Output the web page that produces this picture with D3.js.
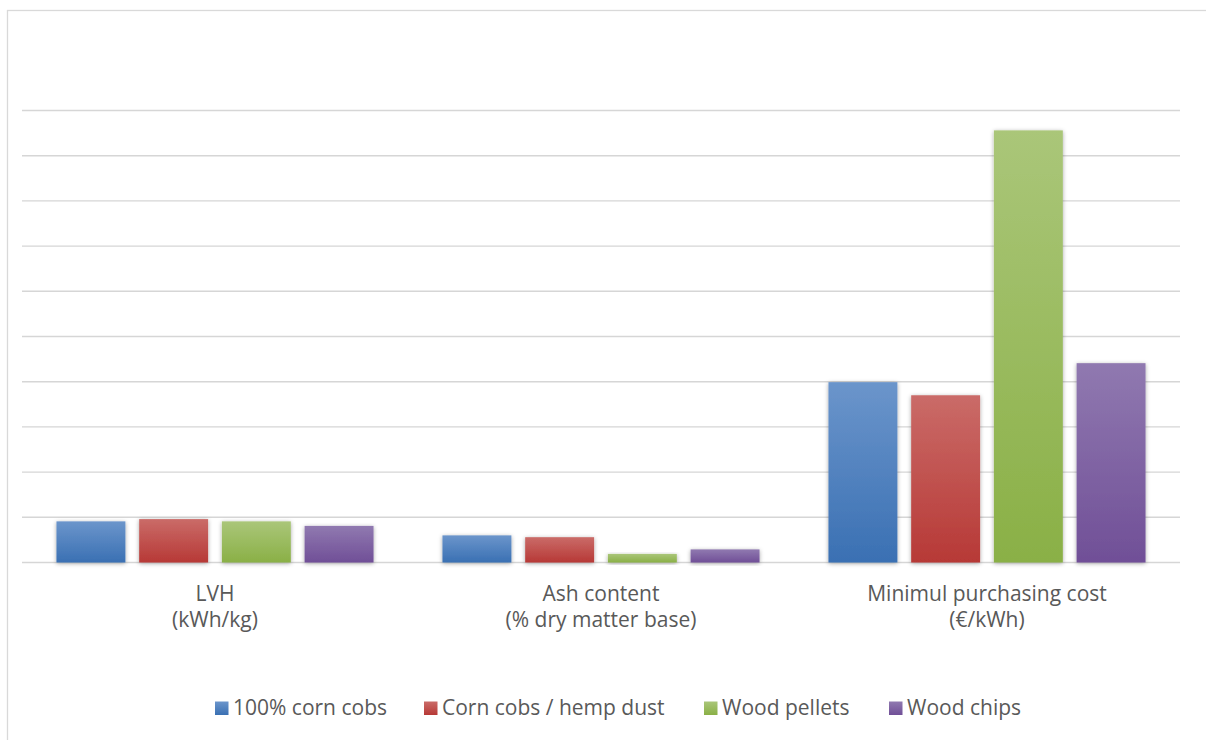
<!DOCTYPE html>
<html>
<head>
<meta charset="utf-8">
<script src="https://cdn.jsdelivr.net/npm/d3@7"></script>
<style>
  html, body { margin: 0; padding: 0; background: #fff; }
  svg { display: block; }
  text { font-family: "Open Sans", Lato, sans-serif; fill: #595959; }
</style>
</head>
<body>
<svg id="chart" width="1206" height="740"></svg>
<script>
// Categories (two-line labels) and series
const categories = [
  ["LVH", "(kWh/kg)"],
  ["Ash content", "(% dry matter base)"],
  ["Minimul purchasing cost", "(€/kWh)"]
];
const seriesNames = ["100% corn cobs", "Corn cobs / hemp dust", "Wood pellets", "Wood chips"];
const cornCobs   = [0.91, 0.60, 3.99];
const hempDust   = [0.96, 0.56, 3.70];
const woodPellet = [0.91, 0.19, 9.56];
const woodChips  = [0.81, 0.29, 4.41];
const seriesValues = [cornCobs, hempDust, woodPellet, woodChips];
const gridTicks = [0, 1, 2, 3, 4, 5, 6, 7, 8, 9, 10];
const colorsTop    = ["#6b95cb", "#ca6b68", "#aac679", "#9079b0"];
const colorsBottom = ["#3a70b3", "#b73936", "#8ab046", "#704f97"];

const svg = d3.select("#chart");
const defs = svg.append("defs");

// vertical gradients per series
seriesNames.forEach((s, i) => {
  const g = defs.append("linearGradient")
    .attr("id", "grad" + i).attr("x1", 0).attr("y1", 0).attr("x2", 0).attr("y2", 1);
  g.append("stop").attr("offset", "0%").attr("stop-color", colorsTop[i]);
  g.append("stop").attr("offset", "100%").attr("stop-color", colorsBottom[i]);
});

// soft outer shadow
const f = defs.append("filter").attr("id", "shadow")
  .attr("x", "-20%").attr("y", "-20%").attr("width", "140%").attr("height", "140%");
f.append("feDropShadow").attr("dx", 0).attr("dy", 1).attr("stdDeviation", 2)
  .attr("flood-color", "#000").attr("flood-opacity", 0.35);

// chart frame (extends past the visible area on right and bottom)
svg.append("rect")
  .attr("x", 7.5).attr("y", 10.5).attr("width", 1300).attr("height", 800)
  .attr("fill", "none").attr("stroke", "#d9d9d9").attr("stroke-width", 1.3);

const plot = { left: 22, right: 1180, top: 110.5, bottom: 562.5 };

const y = d3.scaleLinear().domain([0, 10]).range([plot.bottom, plot.top]);
const x0 = d3.scaleBand().domain(d3.range(categories.length))
  .range([plot.left, plot.right]).paddingInner(0).paddingOuter(0);

// Excel-like layout: gap width 100%, overlap -20%
const bw = x0.bandwidth() / (seriesNames.length + 0.2 * (seriesNames.length - 1) + 1);
const bandOffset = bw * 0.5;

// gridlines
svg.append("g")
  .selectAll("line")
  .data(gridTicks)
  .join("line")
  .attr("x1", plot.left).attr("x2", plot.right)
  .attr("y1", d => y(d)).attr("y2", d => y(d))
  .attr("stroke", "#d6d6d6").attr("stroke-width", 1.4);

// bars
const rows = [];
categories.forEach((c, ci) => {
  seriesValues.forEach((vals, si) => rows.push({ ci, si, v: vals[ci] }));
});
svg.append("g")
  .selectAll("rect")
  .data(rows)
  .join("rect")
  .attr("x", d => x0(d.ci) + bandOffset + d.si * bw * 1.2)
  .attr("width", bw)
  .attr("y", d => y(d.v))
  .attr("height", d => y(0) - y(d.v))
  .attr("fill", d => "url(#grad" + d.si + ")")
  .attr("filter", "url(#shadow)");

// category labels
const catG = svg.append("g");
categories.forEach((lines, ci) => {
  const t = catG.append("text")
    .attr("x", x0(ci) + x0.bandwidth() / 2)
    .attr("y", 601)
    .attr("text-anchor", "middle")
    .style("font-size", "21px");
  lines.forEach((ln, li) => {
    t.append("tspan").attr("x", x0(ci) + x0.bandwidth() / 2)
      .attr("dy", li === 0 ? 0 : 26).text(ln);
  });
});

// legend
const legendX = [215, 424, 704, 889];
const leg = svg.append("g");
seriesNames.forEach((s, i) => {
  leg.append("rect")
    .attr("x", legendX[i]).attr("y", 701.5).attr("width", 13.5).attr("height", 13.5)
    .attr("fill", "url(#grad" + i + ")");
  leg.append("text")
    .attr("x", legendX[i] + 18).attr("y", 715)
    .style("font-size", "21px")
    .text(s);
});
</script>
</body>
</html>
